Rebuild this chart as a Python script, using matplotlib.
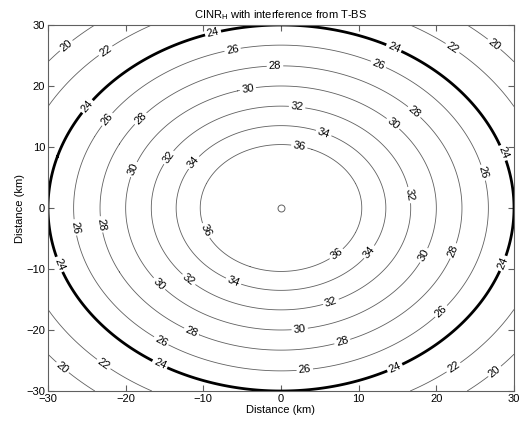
import numpy as np
import matplotlib.pyplot as plt

plt.rcParams['font.family'] = ['Liberation Sans', 'DejaVu Sans']

# CINR levels (dB) and the radius (km) at which each contour sits
levels = [36, 34, 32, 30, 28, 26, 24, 22, 20]
radii = [10.4, 13.5, 16.7, 20.0, 23.3, 26.7, 30.0, 34.3, 38.4]

xticks = [-30, -20, -10, 0, 10, 20, 30]
yticks = [-30, -20, -10, 0, 10, 20, 30]

# approximate label spots in the reference (pixel coords), converted below
label_px = [(68, 48), (107, 53), (213, 33), (233, 52), (275, 67), (248, 90),
            (297, 108), (393, 50), (377, 68), (448, 55), (488, 52), (410, 117),
            (392, 125), (323, 135), (88, 107), (108, 120), (140, 118), (299, 148),
            (503, 153), (482, 173), (410, 195), (427, 257), (456, 252), (507, 265),
            (168, 157), (193, 162), (135, 170), (71, 228), (97, 225), (203, 232),
            (53, 267), (158, 285), (186, 283), (232, 285), (338, 256), (373, 255),
            (332, 305), (300, 332), (343, 344), (190, 335), (160, 343), (305, 372),
            (158, 368), (103, 365), (62, 368), (395, 368), (452, 365), (492, 368),
            (440, 310)]
label_pos = [((px - 281) / 7.77, (208 - py) / 6.1) for px, py in label_px]

# distance field on a grid
x = np.linspace(-30, 30, 601)
y = np.linspace(-30, 30, 601)
X, Y = np.meshgrid(x, y)
R = np.hypot(X, Y)

order = np.argsort(radii)
r_sorted = [radii[i] for i in order]
lv_sorted = [levels[i] for i in order]
widths = [2.0 if lv == 24 else 0.6 for lv in lv_sorted]
colors = ['black' if lv == 24 else '#606060' for lv in lv_sorted]

fig = plt.figure(figsize=(5.30, 4.23), dpi=100)
ax = fig.add_axes([48 / 530, 1 - 391 / 423, 466 / 530, 366 / 423])

cs = ax.contour(X, Y, R, levels=r_sorted, colors=colors, linewidths=widths)
fmt = {r: str(lv) for r, lv in zip(r_sorted, lv_sorted)}
lbls = ax.clabel(cs, fmt=fmt, fontsize=8, colors='black', inline=True,
                 inline_spacing=2, manual=label_pos)

ax.plot(0, 0, 'o', mfc='white', mec='#606060', ms=5, mew=0.7)

ax.set_xlim(-30, 30)
ax.set_ylim(-30, 30)
ax.set_xticks(xticks)
ax.set_yticks(yticks)
ax.tick_params(direction='in', top=True, right=True, labelsize=8, length=4,
               color='#606060', pad=2)
for s in ax.spines.values():
    s.set_color('#606060')
    s.set_linewidth(0.8)

ax.set_xlabel('Distance (km)', fontsize=8, labelpad=1)
ax.set_ylabel('Distance (km)', fontsize=8, labelpad=1)
ax.set_title('CINR$_\\mathregular{H}$ with interference from T-BS', fontsize=8, pad=5)

fig.savefig('out.png', dpi=100)
